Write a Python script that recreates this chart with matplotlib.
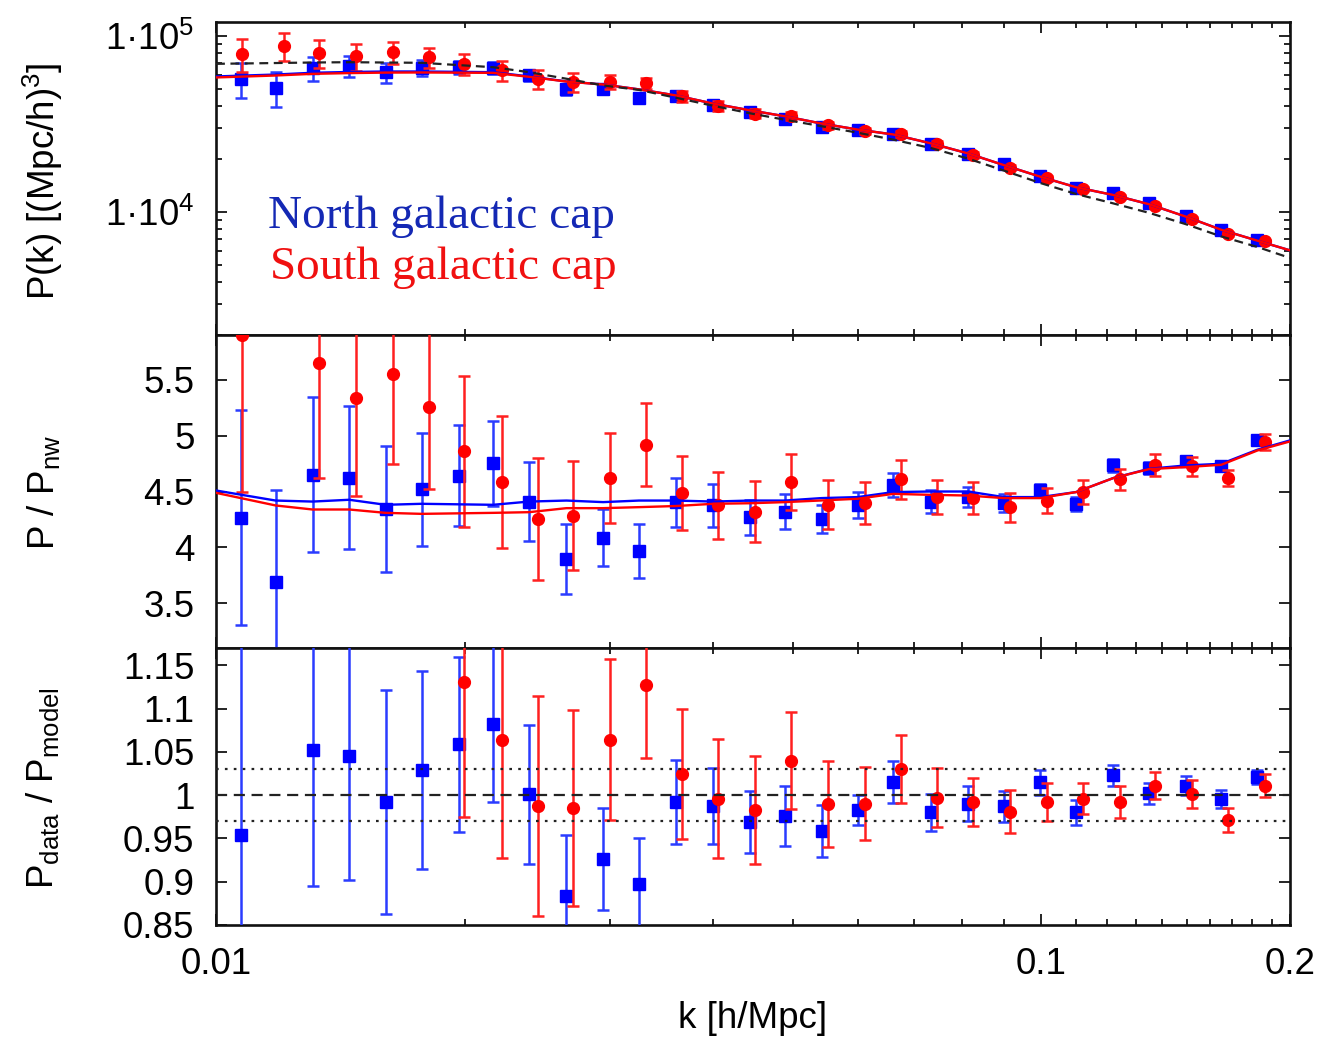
import matplotlib
matplotlib.use("Agg")
import matplotlib.pyplot as plt
from matplotlib.ticker import FixedLocator, FixedFormatter, LogLocator, NullFormatter

plt.rcParams['font.family'] = ['Liberation Sans', 'DejaVu Sans']
plt.rcParams['mathtext.default'] = 'regular'

# ---------------- data ----------------
# k bin centres [h/Mpc]
k_ngc = [0.01072, 0.01181, 0.01309, 0.01450, 0.01605, 0.01774, 0.01968, 0.02166,
         0.02395, 0.02658, 0.02944, 0.03254, 0.03604, 0.04005, 0.04436, 0.04890,
         0.05416, 0.05989, 0.06616, 0.07355, 0.08146, 0.09000, 0.09967, 0.11013,
         0.12214, 0.13497, 0.14945, 0.16511, 0.18265]
k_sgc = [0.01074, 0.01210, 0.01332, 0.01477, 0.01637, 0.01812, 0.01998, 0.02220,
         0.02452, 0.02707, 0.03005, 0.03320, 0.03667, 0.04061, 0.04494, 0.04977,
         0.05518, 0.06110, 0.06749, 0.07477, 0.08272, 0.09160, 0.10146, 0.11222,
         0.12431, 0.13736, 0.15210, 0.16822, 0.18677]

# power spectrum P(k) [(Mpc/h)^3]
pk_ngc = [56940, 50640, 65690, 67700, 62050, 65690, 66210, 65690, 59430, 49540,
          49540, 44460, 45220, 40600, 36870, 33830, 30330, 29320, 27590, 24230,
          21270, 18670, 16040, 13610, 12750, 11200, 9493, 7911, 6947]
pk_ngc_err = [12650, 11300, 10150, 9200, 8100, 7000, 6000, 5000, 4500, 3500,
              3000, 2500, 2200, 1900, 1600, 1400, 1200, 1000, 900, 800,
              650, 550, 450, 380, 320, 270, 220, 180, 150]
pk_sgc = [78840, 87800, 79850, 76380, 80480, 75420, 69200, 63430, 56940, 54520,
          54520, 53810, 45220, 39870, 36110, 34990, 31010, 28790, 27590, 24230,
          20990, 17800, 15500, 13490, 12110, 10810, 9129, 7512, 6795]
pk_sgc_err = [16800, 16000, 14600, 13200, 11600, 10200, 9300, 8300, 7250, 6500,
              5000, 4000, 3000, 2500, 2100, 1800, 1500, 1300, 1100, 900,
              750, 600, 500, 420, 350, 300, 250, 200, 170]

# P / P_nw
ratio_ngc = [4.267, 3.694, 4.650, 4.625, 4.345, 4.518, 4.643, 4.751, 4.410, 3.897,
             4.088, 3.966, 4.405, 4.375, 4.271, 4.321, 4.255, 4.381, 4.560, 4.410,
             4.450, 4.399, 4.509, 4.390, 4.733, 4.710, 4.769, 4.724, 4.957]
ratio_ngc_err = [0.96, 0.816, 0.693, 0.636, 0.565, 0.503, 0.448, 0.378, 0.351, 0.31,
                 0.258, 0.24, 0.22, 0.194, 0.157, 0.154, 0.127, 0.116, 0.109, 0.10,
                 0.09, 0.08, 0.06, 0.06, 0.056, 0.05, 0.045, 0.04, 0.035]
ratio_sgc = [5.90, 6.60, 5.653, 5.337, 5.552, 5.253, 4.858, 4.584, 4.255, 4.285,
             4.620, 4.918, 4.488, 4.375, 4.321, 4.584, 4.381, 4.399, 4.608, 4.450,
             4.441, 4.360, 4.419, 4.495, 4.608, 4.739, 4.727, 4.620, 4.943]
ratio_sgc_err = [1.40, 0.55, 1.033, 0.878, 0.81, 0.735, 0.672, 0.587, 0.549, 0.49,
                 0.40, 0.37, 0.33, 0.296, 0.276, 0.247, 0.22, 0.187, 0.172, 0.15,
                 0.142, 0.13, 0.112, 0.105, 0.094, 0.096, 0.085, 0.075, 0.072]

# P_data / P_model
res_ngc = [0.954, 0.780, 1.052, 1.045, 0.992, 1.029, 1.059, 1.082, 1.001, 0.883,
           0.926, 0.897, 0.992, 0.987, 0.969, 0.976, 0.959, 0.983, 1.015, 0.980,
           0.990, 0.987, 1.015, 0.980, 1.023, 1.002, 1.011, 0.996, 1.021]
res_ngc_err = [0.22, 0.06, 0.157, 0.143, 0.129, 0.114, 0.101, 0.09, 0.080, 0.071,
               0.059, 0.053, 0.049, 0.044, 0.036, 0.035, 0.030, 0.0175, 0.024, 0.021,
               0.020, 0.0175, 0.0145, 0.0145, 0.012, 0.012, 0.011, 0.0105, 0.0083]
res_sgc = [1.32, 1.28, 1.26, 1.25, 1.27, 1.24, 1.131, 1.064, 0.987, 0.985,
           1.064, 1.127, 1.024, 0.996, 0.983, 1.040, 0.990, 0.990, 1.030, 0.997,
           0.992, 0.981, 0.992, 0.996, 0.992, 1.011, 1.001, 0.971, 1.011]
res_sgc_err = [0.14, 0.10, 0.085, 0.075, 0.095, 0.065, 0.156, 0.137, 0.127, 0.113,
               0.093, 0.084, 0.075, 0.069, 0.062, 0.056, 0.050, 0.042, 0.039, 0.034,
               0.028, 0.025, 0.022, 0.018, 0.018, 0.016, 0.016, 0.014, 0.013]

# best-fit model curves
k_model = [0.0100, 0.01181, 0.01309, 0.01450, 0.01605, 0.01774, 0.02166, 0.02395,
           0.02658, 0.02944, 0.03254, 0.03604, 0.04005, 0.04436, 0.04890, 0.05416,
           0.05989, 0.06616, 0.07355, 0.08146, 0.09000, 0.09967, 0.11013, 0.12214,
           0.13497, 0.14945, 0.16511, 0.18265, 0.2000]
pk_model_ngc = [58670, 60170, 61560, 62200, 62600, 62600, 62050, 58670, 54970, 52860,
                49540, 45810, 41130, 37690, 34850, 31700, 29320, 27480, 24440, 21460,
                18430, 15830, 13790, 12470, 11050, 9406, 7911, 6858, 6045]
pk_model_sgc = [57900, 59400, 60700, 61300, 61700, 61800, 61500, 58400, 54900, 52800,
                49540, 45810, 41130, 37690, 34850, 31700, 29320, 27480, 24440, 21460,
                18430, 15830, 13790, 12470, 11050, 9406, 7911, 6858, 6045]
pk_nowiggle = [69200, 69920, 70400, 70680, 70400, 70120, 66210, 62050, 56940, 52170,
               49220, 44460, 39970, 36250, 33310, 30610, 28130, 25680, 22990, 20060,
               17160, 14580, 12630, 11170, 9872, 8521, 7253, 6318, 5474]
ratio_model_ngc = [4.509, 4.419, 4.410, 4.426, 4.381, 4.390, 4.381, 4.410, 4.419, 4.405,
                   4.419, 4.419, 4.410, 4.419, 4.419, 4.441, 4.450, 4.495, 4.500, 4.500,
                   4.450, 4.450, 4.495, 4.620, 4.703, 4.733, 4.748, 4.874, 4.957]
ratio_model_sgc = [4.488, 4.375, 4.339, 4.339, 4.309, 4.300, 4.309, 4.315, 4.351, 4.351,
                   4.360, 4.370, 4.390, 4.395, 4.405, 4.420, 4.435, 4.479, 4.470, 4.464,
                   4.441, 4.441, 4.495, 4.620, 4.700, 4.718, 4.739, 4.867, 4.948]

x_ticks = [0.01, 0.1, 0.2]
x_ticklabels = ['0.01', '0.1', '0.2']
x_minor = [0.02, 0.03, 0.04, 0.05, 0.06, 0.07, 0.08, 0.09,
           0.11, 0.12, 0.13, 0.14, 0.15, 0.16, 0.17, 0.18, 0.19]
mid_ticks = [3.5, 4, 4.5, 5, 5.5]
bot_ticks = [0.85, 0.9, 0.95, 1, 1.05, 1.1, 1.15]

# ---------------- styling ----------------
BLUE = '#0000ff'
RED = '#ff0000'
BLUE_BAR = '#2a3cff'
RED_BAR = '#ff2020'
FS = 26.5

fig = plt.figure(figsize=(13.22, 10.40), dpi=100)
W, H = 1322.0, 1040.0
left = 216 / W
width = (1290 - 216) / W
ax1 = fig.add_axes([left, 1 - 335 / H, width, (335 - 21.7) / H])
ax2 = fig.add_axes([left, 1 - 648 / H, width, (648 - 335) / H], sharex=ax1)
ax3 = fig.add_axes([left, 1 - 925 / H, width, (925 - 648) / H], sharex=ax1)

eb_kw = dict(capsize=4.3, elinewidth=1.8, capthick=1.8, linestyle='none')


def draw_points(ax, yn, en, ys, es):
    ax.errorbar(k_ngc, yn, yerr=en, fmt='s', color=BLUE, ecolor=BLUE_BAR,
                ms=9, zorder=3, **eb_kw)
    ax.errorbar(k_sgc, ys, yerr=es, fmt='o', color=RED, ecolor=RED_BAR,
                ms=8.5, zorder=4, **eb_kw)


# top: power spectrum
draw_points(ax1, pk_ngc, pk_ngc_err, pk_sgc, pk_sgc_err)
ax1.plot(k_model, pk_model_ngc, color=BLUE, lw=1.7, zorder=5)
ax1.plot(k_model, pk_model_sgc, color=RED, lw=1.7, zorder=6)
ax1.plot(k_model, pk_nowiggle, color='#222222', lw=1.6, ls=(0, (4, 2.5)), zorder=7)
ax1.set_yscale('log')
ax1.set_ylim(2000, 1.2e5)
ax1.yaxis.set_major_locator(FixedLocator([1e4, 1e5]))
ax1.yaxis.set_major_formatter(FixedFormatter(['1·10$^{4}$', '1·10$^{5}$']))
ax1.yaxis.set_minor_locator(LogLocator(base=10, subs=range(2, 10)))
ax1.yaxis.set_minor_formatter(NullFormatter())

# middle: ratio to no-wiggle spectrum
draw_points(ax2, ratio_ngc, ratio_ngc_err, ratio_sgc, ratio_sgc_err)
ax2.plot(k_model, ratio_model_ngc, color=BLUE, lw=1.7, zorder=5)
ax2.plot(k_model, ratio_model_sgc, color=RED, lw=1.7, zorder=6)
ax2.set_ylim(3.1, 5.9)
ax2.yaxis.set_major_locator(FixedLocator(mid_ticks))
ax2.yaxis.set_major_formatter(FixedFormatter(['%g' % v for v in mid_ticks]))

# bottom: residuals
draw_points(ax3, res_ngc, res_ngc_err, res_sgc, res_sgc_err)
ax3.axhline(1.0, color='#222222', lw=1.6, ls=(0, (5, 3)), zorder=7)
ax3.axhline(1.03, color='#222222', lw=1.6, ls=(0, (1.2, 2.8)), zorder=7)
ax3.axhline(0.97, color='#222222', lw=1.6, ls=(0, (1.2, 2.8)), zorder=7)
ax3.set_ylim(0.85, 1.17)
ax3.yaxis.set_major_locator(FixedLocator(bot_ticks))
ax3.yaxis.set_major_formatter(FixedFormatter(['%g' % v for v in bot_ticks]))

ax3.set_xscale('log')
ax3.set_xlim(0.01, 0.2)
ax3.xaxis.set_major_locator(FixedLocator(x_ticks))
ax3.xaxis.set_major_formatter(FixedFormatter(x_ticklabels))
ax3.xaxis.set_minor_locator(FixedLocator(x_minor))
ax3.xaxis.set_minor_formatter(NullFormatter())

for ax in (ax1, ax2, ax3):
    ax.tick_params(which='both', direction='in', top=True, right=True,
                   labelsize=FS, width=1.2, pad=15.5)
    ax.tick_params(which='major', length=8)
    ax.tick_params(which='minor', length=4.3)
    for s in ax.spines.values():
        s.set_linewidth(1.9)
        s.set_color('#111111')
for ax in (ax1, ax2):
    ax.tick_params(axis='x', labelbottom=False)

# axis titles
fig.text(43 / W, 1 - 181 / H, 'P(k) [(Mpc/h)$^{3}$]', rotation=90,
         ha='center', va='center', fontsize=FS)
fig.text(43 / W, 1 - 493 / H, 'P / P$_{nw}$', rotation=90,
         ha='center', va='center', fontsize=FS)
fig.text(43 / W, 1 - 788 / H, 'P$_{data}$ / P$_{model}$', rotation=90,
         ha='center', va='center', fontsize=FS)
fig.text(753 / W, 1 - 1018 / H, 'k [h/Mpc]', ha='center', va='center', fontsize=FS)

# sample labels
fig.text(268 / W, 1 - 228 / H, 'North galactic cap', family='Liberation Serif',
         fontsize=34, color='#1428b4', va='baseline', ha='left')
fig.text(270 / W, 1 - 279 / H, 'South galactic cap', family='Liberation Serif',
         fontsize=34, color='#f01010', va='baseline', ha='left')

fig.savefig('out.png', dpi=100)
